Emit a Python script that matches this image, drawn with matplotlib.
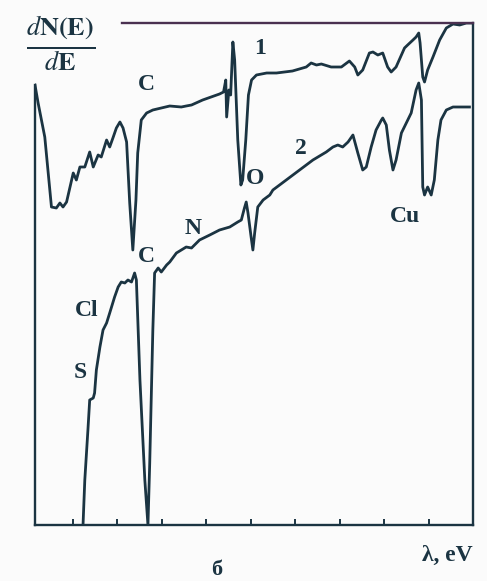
import matplotlib
matplotlib.use("Agg")
import matplotlib.pyplot as plt

plt.rcParams['mathtext.fontset'] = 'stix'
plt.rcParams['font.family'] = ['Liberation Serif', 'DejaVu Serif']

# Energy (eV) and dN/dE (arbitrary units)
e1 = [15, 22, 37, 52, 63, 71, 78, 86, 101, 108, 116, 127, 138, 146, 157, 164, 176, 183, 191, 198,
      206, 213, 221, 228, 235, 242, 246, 254, 266, 280, 318, 344, 355, 367, 392, 430, 439, 444, 446,
      451, 455, 460, 464, 471, 478, 482, 489, 495, 502, 513, 536, 558, 594, 625, 636, 648, 659, 681,
      704, 722, 734, 741, 752, 767, 775, 786, 797, 808, 816, 827, 839, 846, 853, 865, 872, 878, 881,
      887, 891, 898, 910, 925, 940, 955, 970, 985, 1000]
i1 = [440, 422, 388, 318, 317, 322, 318, 323, 352, 345, 358, 358, 373, 358, 370, 368, 385, 378, 388, 397,
      403, 397, 383, 322, 275, 325, 372, 405, 412, 415, 419, 418, 419, 420, 425, 431, 433, 445, 408,
      435, 430, 483, 465, 385, 340, 345, 385, 430, 445, 450, 452, 452, 454, 458, 462, 460, 461, 458,
      458, 464, 458, 450, 455, 472, 473, 470, 472, 458, 453, 458, 470, 477, 480, 485, 488, 492, 482,
      448, 443, 455, 468, 485, 497, 501, 500, 502, 502]

e2 = [123, 127, 134, 138, 146, 149, 153, 161, 168, 176, 183, 194, 202, 209, 217, 224, 232, 239, 243,
      251, 262, 269, 273, 280, 284, 292, 299, 311, 318, 333, 355, 367, 385, 408, 430, 453, 471, 479,
      486, 490, 494, 501, 505, 509, 516, 528, 543, 550, 580, 610, 640, 670, 685, 696, 707, 719, 730,
      741, 752, 760, 771, 782, 794, 797, 805, 812, 820, 827, 839, 850, 861, 872, 878, 884, 887, 891,
      898, 906, 913, 921, 928, 940, 955, 992]
i2 = [0, 45, 95, 125, 127, 132, 155, 178, 195, 202, 212, 228, 238, 243, 242, 245, 243, 252, 245,
      145, 45, 0, 62, 195, 252, 257, 253, 260, 263, 272, 278, 277, 285, 290, 295, 298, 303, 305,
      317, 323, 312, 288, 275, 292, 318, 325, 330, 335, 345, 355, 365, 373, 378, 380, 378, 383, 390,
      372, 355, 358, 378, 395, 405, 407, 400, 375, 355, 365, 392, 402, 412, 435, 442, 425, 338, 330,
      338, 330, 345, 385, 405, 415, 418, 418]

tick_ev = [100, 200, 300, 400, 500, 600, 700, 800, 900]

peak_labels = ["C", "1", "O", "2", "Cu", "N", "C", "Cl", "S"]
label_pos = [(266, 440), (522, 477), (509, 347), (612, 377), (846, 308),
             (370, 296), (266, 268), (131, 215), (116, 152)]

ink = '#1b3442'
bg = '#fbfbfb'

fig = plt.figure(figsize=(4.87, 5.81), dpi=100, facecolor=bg)
ax = fig.add_axes([35/487, 1 - 525/581, 438/487, 502/581])
ax.set_facecolor(bg)
ax.plot(e1, i1, color=ink, lw=2.0, solid_joinstyle='round', clip_on=True)
ax.plot(e2, i2, color=ink, lw=2.0, solid_joinstyle='round', clip_on=True)
ax.set_xlim(15, 1000)
ax.set_ylim(0, 502)

for s in ax.spines.values():
    s.set_color(ink)
    s.set_linewidth(1.7)
ax.spines['left'].set_bounds(0, 440)
ax.spines['top'].set_bounds(210, 1000)
ax.spines['top'].set_color('#4a3050')

ax.set_xticks(tick_ev)
ax.set_xticklabels([])
ax.set_yticks([])
ax.tick_params(axis='x', direction='in', length=4.5, width=1.4, color=ink)

for t, (x, y) in zip(peak_labels, label_pos):
    ax.text(x, y, t, ha='center', va='center', fontsize=17, fontweight='bold', color=ink)

fig.text(61/487, 1 - 44/581, r'$\frac{d\mathbf{N(E)}}{d\mathbf{E}}$', ha='center', va='center',
         fontsize=27, color=ink)
fig.text(447/487, 1 - 555/581, 'λ, eV', ha='center', va='center', fontsize=17, fontweight='bold', color=ink)
fig.text(217/487, 1 - 570/581, 'б', ha='center', va='center', fontsize=16, fontweight='bold', color=ink)

fig.savefig('out.png', dpi=100, facecolor=bg)
